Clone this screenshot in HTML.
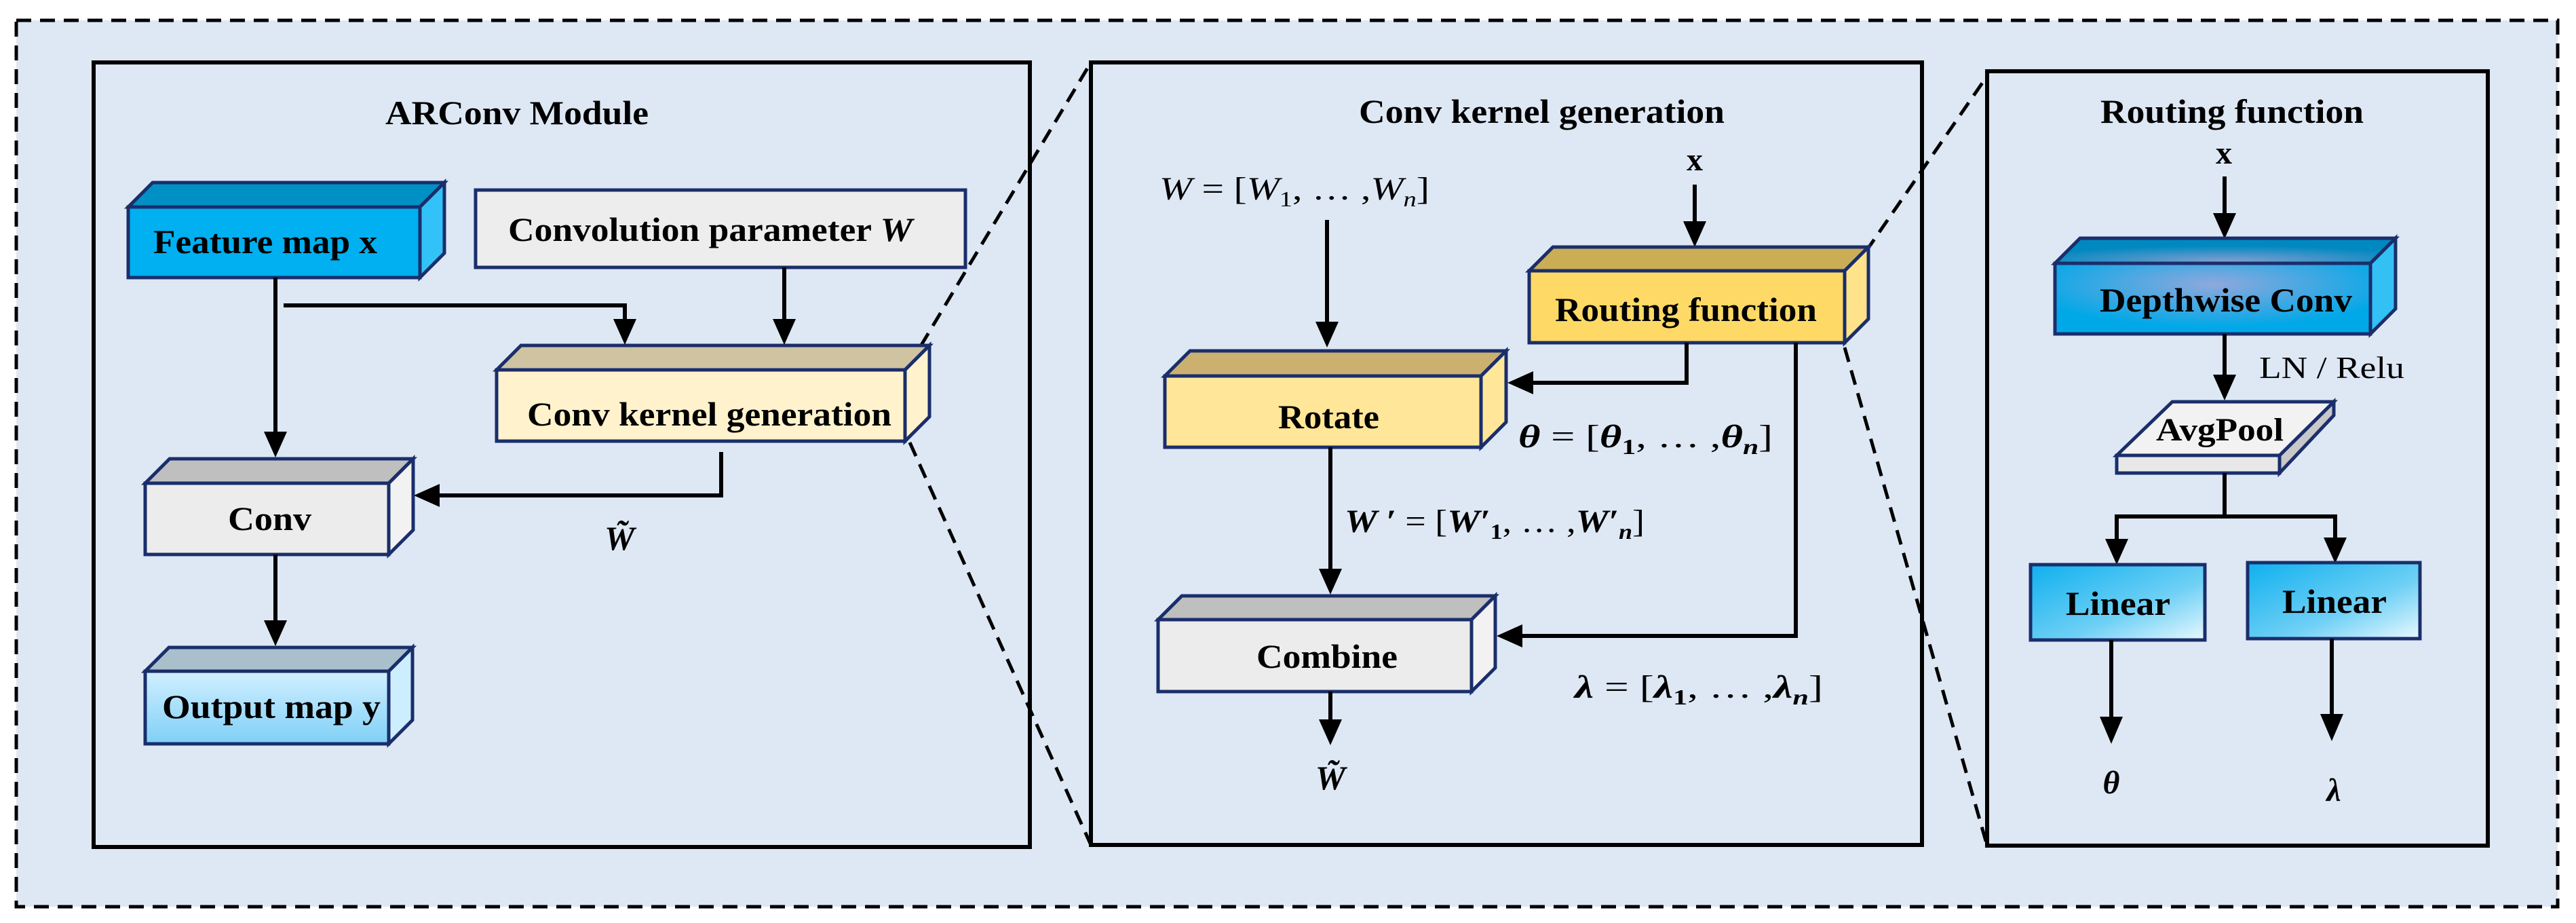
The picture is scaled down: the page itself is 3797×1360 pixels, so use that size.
<!DOCTYPE html>
<html><head><meta charset="utf-8"><style>
html,body{margin:0;padding:0;background:#fff;}
svg{display:block;}
text{font-family:"Liberation Serif",serif;fill:#000;}
.b{font-weight:bold;}
.box{stroke:#1a2e6b;stroke-width:5;stroke-linejoin:miter;}
.ln{stroke:#000;stroke-width:6;fill:none;}
.dash{stroke:#000;stroke-width:5;fill:none;stroke-dasharray:22 13;}
</style></head><body>
<svg width="3797" height="1360" viewBox="0 0 3797 1360" xmlns="http://www.w3.org/2000/svg">
<defs>
<linearGradient id="gOut" x1="0" y1="0" x2="0" y2="1"><stop offset="0" stop-color="#d2efff"/><stop offset="1" stop-color="#7fd0f7"/></linearGradient>
<radialGradient id="gDW" cx="0.5" cy="0.3" r="0.6"><stop offset="0" stop-color="#8fa8dc"/><stop offset="1" stop-color="#00a8e8"/></radialGradient>
<radialGradient id="gDWt" cx="0.5" cy="0.9" r="0.6"><stop offset="0" stop-color="#7f9ed0"/><stop offset="1" stop-color="#0088c0"/></radialGradient>
<linearGradient id="gLin" x1="0" y1="0" x2="1" y2="1"><stop offset="0" stop-color="#0fb0ef"/><stop offset="0.6" stop-color="#6fd0f5"/><stop offset="1" stop-color="#e8f8ff"/></linearGradient>
</defs>
<rect x="24" y="30" width="3746" height="1306" style="fill:#dee8f4;stroke:#000;stroke-width:5;stroke-dasharray:22 13"/>
<!-- panels -->
<rect x="138" y="92" width="1380" height="1156" fill="none" stroke="#000" stroke-width="6"/>
<rect x="1608" y="92" width="1225" height="1153" fill="none" stroke="#000" stroke-width="6"/>
<rect x="2929" y="105" width="738" height="1141" fill="none" stroke="#000" stroke-width="6"/>
<!-- zoom dashed lines -->
<line class="dash" x1="1357" y1="510" x2="1608" y2="92"/>
<line class="dash" x1="1341" y1="652" x2="1608" y2="1245"/>
<line class="dash" x1="2750" y1="371" x2="2929" y2="112"/>
<line class="dash" x1="2719" y1="512" x2="2929" y2="1246"/>

<!-- PANEL 1 -->
<text class="b" x="568" y="183" font-size="50" textLength="388" lengthAdjust="spacingAndGlyphs">ARConv Module</text>
<polygon class="box" fill="#0090c4" points="189,305 225,269 655,269 619,305"/>
<polygon class="box" fill="#33c2f7" points="619,305 655,269 655,373 619,409"/>
<rect class="box" fill="#00b0f0" x="189" y="305" width="430" height="104"/>
<text class="b" x="226" y="373" font-size="50" textLength="330" lengthAdjust="spacingAndGlyphs">Feature map x</text>
<rect class="box" fill="#ededed" x="701" y="280" width="722" height="114"/>
<text class="b" x="749" y="355" font-size="50" textLength="596" lengthAdjust="spacingAndGlyphs">Convolution parameter <tspan font-style="italic">W</tspan></text>
<polygon class="box" fill="#cfc3a2" points="732,545 768,509 1370,509 1334,545"/>
<polygon class="box" fill="#fff2cc" points="1334,545 1370,509 1370,614 1334,650"/>
<rect class="box" fill="#fff2cc" x="732" y="545" width="602" height="105"/>
<text class="b" x="777" y="627" font-size="50" textLength="537" lengthAdjust="spacingAndGlyphs">Conv kernel generation</text>
<polygon class="box" fill="#bfbfbf" points="214,712 250,676 609,676 573,712"/>
<polygon class="box" fill="#f2f2f2" points="573,712 609,676 609,781 573,817"/>
<rect class="box" fill="#ececec" x="214" y="712" width="359" height="105"/>
<text class="b" x="336" y="781" font-size="50" textLength="123" lengthAdjust="spacingAndGlyphs">Conv</text>
<polygon class="box" fill="#a9bfcc" points="214,989 249,954 608,954 573,989"/>
<polygon class="box" fill="#cdeeff" points="573,989 608,954 608,1061 573,1096"/>
<rect class="box" fill="url(#gOut)" x="214" y="989" width="359" height="107"/>
<text class="b" x="239" y="1058" font-size="50" textLength="322" lengthAdjust="spacingAndGlyphs">Output map y</text>
<line class="ln" x1="406" y1="409" x2="406" y2="640"/>
<polygon points="389,636 423,636 406,674"/>
<polyline class="ln" points="418,450 921,450 921,474"/>
<polygon points="904,470 938,470 921,508"/>
<line class="ln" x1="1156" y1="394" x2="1156" y2="474"/>
<polygon points="1139,470 1173,470 1156,508"/>
<polyline class="ln" points="1063,666 1063,730 644,730"/>
<polygon points="648,713 648,747 610,730"/>
<text class="b" x="891" y="810" font-size="50" font-style="italic">W̃</text>
<line class="ln" x1="406" y1="817" x2="406" y2="918"/>
<polygon points="389,914 423,914 406,952"/>

<!-- PANEL 2 -->
<text class="b" x="2003" y="181" font-size="50" textLength="539" lengthAdjust="spacingAndGlyphs">Conv kernel generation</text>
<text x="1709" y="294" font-size="48" textLength="398" lengthAdjust="spacingAndGlyphs"><tspan font-style="italic">W</tspan> = [<tspan font-style="italic">W</tspan><tspan font-size="32" dy="10">1</tspan><tspan dy="-10">, … ,</tspan><tspan font-style="italic">W</tspan><tspan font-size="32" dy="10" font-style="italic">n</tspan><tspan dy="-10">]</tspan></text>
<text class="b" x="2486" y="251" font-size="48">x</text>
<line class="ln" x1="2498" y1="272" x2="2498" y2="330"/>
<polygon points="2481,326 2515,326 2498,364"/>
<polygon class="box" fill="#cbad55" points="2254,399 2289,364 2754,364 2719,399"/>
<polygon class="box" fill="#ffe38a" points="2719,399 2754,364 2754,470 2719,505"/>
<rect class="box" fill="#ffd966" x="2254" y="399" width="465" height="106"/>
<text class="b" x="2292" y="473" font-size="50" textLength="386" lengthAdjust="spacingAndGlyphs">Routing function</text>
<line class="ln" x1="1956" y1="324" x2="1956" y2="478"/>
<polygon points="1939,474 1973,474 1956,512"/>
<polygon class="box" fill="#ccb070" points="1717,554 1754,517 2220,517 2183,554"/>
<polygon class="box" fill="#ffe699" points="2183,554 2220,517 2220,622 2183,659"/>
<rect class="box" fill="#ffe699" x="1717" y="554" width="466" height="105"/>
<text class="b" x="1884" y="631" font-size="50" textLength="149" lengthAdjust="spacingAndGlyphs">Rotate</text>
<polyline class="ln" points="2486,505 2486,564 2256,564"/>
<polygon points="2260,547 2260,581 2222,564"/>
<text class="b" x="2238" y="659" font-size="48" font-style="italic" textLength="375" lengthAdjust="spacingAndGlyphs">θ <tspan font-style="normal" font-weight="normal">= [</tspan>θ<tspan font-size="32" dy="10" font-style="normal">1</tspan><tspan dy="-10" font-style="normal" font-weight="normal">, … ,</tspan>θ<tspan font-size="32" dy="10">n</tspan><tspan dy="-10" font-style="normal" font-weight="normal">]</tspan></text>
<line class="ln" x1="1961" y1="659" x2="1961" y2="842"/>
<polygon points="1944,838 1978,838 1961,876"/>
<text class="b" x="1982" y="784" font-size="48" font-style="italic" textLength="442" lengthAdjust="spacingAndGlyphs">W ′ <tspan font-style="normal" font-weight="normal">= [</tspan>W′<tspan font-size="32" dy="10" font-style="normal">1</tspan><tspan dy="-10" font-style="normal" font-weight="normal">, … ,</tspan>W′<tspan font-size="32" dy="10">n</tspan><tspan dy="-10" font-style="normal" font-weight="normal">]</tspan></text>
<polygon class="box" fill="#bfbfbf" points="1707,913 1742,878 2204,878 2169,913"/>
<polygon class="box" fill="#f2f2f2" points="2169,913 2204,878 2204,984 2169,1019"/>
<rect class="box" fill="#ececec" x="1707" y="913" width="462" height="106"/>
<text class="b" x="1852" y="984" font-size="50" textLength="208" lengthAdjust="spacingAndGlyphs">Combine</text>
<polyline class="ln" points="2647,505 2647,937 2242,937"/>
<polygon points="2244,920 2244,954 2206,937"/>
<text class="b" x="2321" y="1028" font-size="48" font-style="italic" textLength="366" lengthAdjust="spacingAndGlyphs">λ <tspan font-style="normal" font-weight="normal">= [</tspan>λ<tspan font-size="32" dy="10" font-style="normal">1</tspan><tspan dy="-10" font-style="normal" font-weight="normal">, … ,</tspan>λ<tspan font-size="32" dy="10">n</tspan><tspan dy="-10" font-style="normal" font-weight="normal">]</tspan></text>
<line class="ln" x1="1961" y1="1019" x2="1961" y2="1064"/>
<polygon points="1944,1060 1978,1060 1961,1098"/>
<text class="b" x="1961" y="1163" font-size="50" font-style="italic" text-anchor="middle">W̃</text>

<!-- PANEL 3 -->
<text class="b" x="3096" y="181" font-size="50" textLength="388" lengthAdjust="spacingAndGlyphs">Routing function</text>
<text class="b" x="3266" y="241" font-size="48">x</text>
<line class="ln" x1="3279" y1="260" x2="3279" y2="318"/>
<polygon points="3262,314 3296,314 3279,352"/>
<polygon class="box" fill="url(#gDWt)" points="3029,388 3066,351 3531,351 3494,388"/>
<polygon class="box" fill="#33c0f5" points="3494,388 3531,351 3531,455 3494,492"/>
<rect class="box" fill="url(#gDW)" x="3029" y="388" width="465" height="104"/>
<text class="b" x="3095" y="459" font-size="50" textLength="372" lengthAdjust="spacingAndGlyphs">Depthwise Conv</text>
<line class="ln" x1="3279" y1="492" x2="3279" y2="556"/>
<polygon points="3262,552 3296,552 3279,590"/>
<text x="3330" y="557" font-size="46" textLength="214" lengthAdjust="spacingAndGlyphs">LN / Relu</text>
<polygon class="box" fill="#e8e8e8" points="3120,671 3360,671 3360,697 3120,697"/>
<polygon class="box" fill="#c8c8c8" points="3360,671 3440,592 3440,612 3360,697"/>
<polygon class="box" fill="#f2f2f2" points="3120,671 3202,592 3440,592 3360,671"/>
<text class="b" x="3178" y="649" font-size="48" textLength="188" lengthAdjust="spacingAndGlyphs">AvgPool</text>
<polyline class="ln" points="3279,697 3279,761"/>
<polyline class="ln" points="3120,800 3120,761 3442,761 3442,800"/>
<polygon points="3103,794 3137,794 3120,832"/>
<polygon points="3425,792 3459,792 3442,830"/>
<rect class="box" fill="url(#gLin)" x="2993" y="832" width="257" height="111"/>
<rect class="box" fill="url(#gLin)" x="3313" y="829" width="254" height="112"/>
<text class="b" x="3045" y="906" font-size="50" textLength="154" lengthAdjust="spacingAndGlyphs">Linear</text>
<text class="b" x="3364" y="903" font-size="50" textLength="154" lengthAdjust="spacingAndGlyphs">Linear</text>
<line class="ln" x1="3112" y1="943" x2="3112" y2="1060"/>
<polygon points="3095,1056 3129,1056 3112,1096"/>
<line class="ln" x1="3437" y1="941" x2="3437" y2="1056"/>
<polygon points="3420,1052 3454,1052 3437,1092"/>
<text class="b" x="3112" y="1169" font-size="48" font-style="italic" text-anchor="middle">θ</text>
<text class="b" x="3440" y="1180" font-size="48" font-style="italic" text-anchor="middle">λ</text>
</svg>
</body></html>
